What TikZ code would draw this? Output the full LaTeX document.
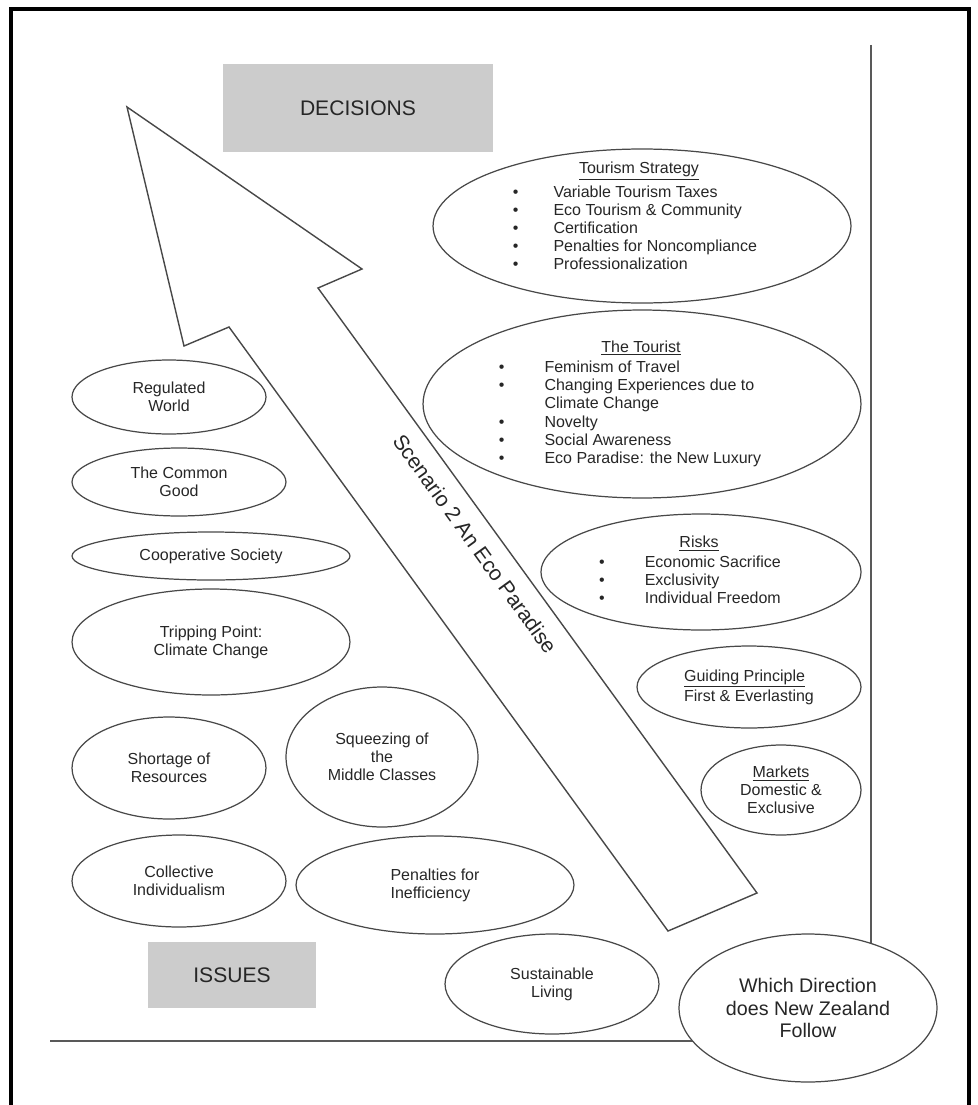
\documentclass[tikz,border=0pt]{standalone}
\usepackage{fontspec}
\setmainfont{Liberation Sans}
\usetikzlibrary{shapes.geometric, backgrounds}
\definecolor{boxgray}{RGB}{204, 204, 204}
\definecolor{inkgray}{RGB}{72, 72, 72}
\newcommand{\smalltxt}{\fontsize{9.1}{10.3}\selectfont}
\newcommand{\bigtxt}{\fontsize{12}{14}\selectfont}

\tikzset{
  oval/.style={draw=inkgray, line width=0.7pt, ellipse, inner sep=0pt, align=center, font=\smalltxt, text=black!85},
  tagbox/.style={fill=boxgray, inner sep=0pt, font=\bigtxt, text=black!85},
  axisline/.style={draw=black!65, line width=1.1pt},
}

\begin{document}
\begin{tikzpicture}[x=0.02cm, y=-0.02cm]
  \useasboundingbox (0,0) rectangle (977,1105);
  % frame, open at the bottom
  \draw[line width=2.2pt] (11,1105) -- (11,9) -- (969,9) -- (969,1105);

  \node[tagbox, minimum width=5.4cm, minimum height=1.78cm] (decisions) at (358,108) {DECISIONS};
  \node[tagbox, minimum width=3.38cm, minimum height=1.32cm] (issues) at (232,975) {ISSUES};

  % the scenario arrow
  \coordinate (tip) at (127,107);
  \coordinate (rbarb) at (362,269);
  \coordinate (rneck) at (318,288);
  \coordinate (rfoot) at (757,893);
  \coordinate (lfoot) at (668,931);
  \coordinate (lneck) at (229,327);
  \coordinate (lbarb) at (184,346);
  \draw[draw=inkgray, line width=0.8pt] (tip) -- (rbarb) -- (rneck) -- (rfoot) -- (lfoot) -- (lneck) -- (lbarb) -- cycle;
  \node[rotate=-54.2, font=\bigtxt, text=black!85] (scenario) at (475,544) {Scenario 2 An Eco Paradise};

  % decisions side
  \node[oval, minimum width=8.36cm, minimum height=3.08cm] (strategy) at (642,226) {\raisebox{0.08cm}[0pt][0pt]{\hspace*{-0.28cm}%
    \begin{tabular}{@{}l@{\hspace{0.7cm}}l@{}}
      \multicolumn{2}{c}{\hspace{0.16cm}\underline{Tourism Strategy}}\\[3.4pt]
      \textbullet & Variable Tourism Taxes\\
      \textbullet & Eco Tourism \& Community\\
      \textbullet & Certification\\
      \textbullet & Penalties for Noncompliance\\
      \textbullet & Professionalization
    \end{tabular}}};
  \node[oval, minimum width=8.76cm, minimum height=3.76cm] (tourist) at (642,404) {\hspace*{-0.48cm}%
    \begin{tabular}{@{}l@{\hspace{0.8cm}}l@{}}
      \multicolumn{2}{c}{\hspace{0.44cm}\underline{The Tourist}}\\[1.5pt]
      \textbullet & Feminism of Travel\\
      \textbullet & Changing Experiences due to\\
                  & Climate Change\\
      \textbullet & Novelty\\
      \textbullet & Social Awareness\\
      \textbullet & Eco Paradise: the New Luxury
    \end{tabular}};
  \node[oval, minimum width=6.4cm, minimum height=2.32cm] (risks) at (701,572) {\hspace*{-0.44cm}%
    \begin{tabular}{@{}l@{\hspace{0.8cm}}l@{}}
      \multicolumn{2}{c}{\hspace{0.36cm}\underline{Risks}}\\[1pt]
      \textbullet & Economic Sacrifice\\
      \textbullet & Exclusivity\\
      \textbullet & Individual Freedom
    \end{tabular}};
  \node[oval, align=left, minimum width=4.48cm, minimum height=1.64cm] (principle) at (749,687) {\underline{Guiding Principle}\\First \& Everlasting};
  \node[oval, minimum width=3.2cm, minimum height=1.8cm] (markets) at (781,790) {\underline{Markets}\\Domestic \&\\Exclusive};

  % issues side
  \node[oval, minimum width=3.88cm, minimum height=1.48cm] (regulated) at (169,397) {Regulated\\World};
  \node[oval, minimum width=4.28cm, minimum height=1.36cm] (common) at (179,482) {The Common\\Good};
  \node[oval, minimum width=5.56cm, minimum height=0.96cm] (cooperative) at (211,556) {Cooperative Society};
  \node[oval, minimum width=5.56cm, minimum height=2.12cm] (tipping) at (211,642) {Tripping Point:\\Climate Change};
  \node[oval, minimum width=3.88cm, minimum height=2.04cm] (shortage) at (169,768) {Shortage of\\Resources};
  \node[oval, minimum width=3.84cm, minimum height=2.8cm] (squeeze) at (382,757) {Squeezing of\\the\\Middle Classes};
  \node[oval, minimum width=4.28cm, minimum height=1.84cm] (collective) at (179,881) {Collective\\Individualism};
  \node[oval, align=left, minimum width=5.56cm, minimum height=1.96cm] (penalties) at (435,885) {Penalties for\\Inefficiency};
  \node[oval, minimum width=4.28cm, minimum height=2.0cm] (sustain) at (552,984) {Sustainable\\Living};

  % the question at the corner
  \node[oval, fill=white, font=\fontsize{11.2}{13}\selectfont, minimum width=5.16cm, minimum height=2.96cm] (which) at (808,1008) {Which Direction\\does New Zealand\\Follow};
  \coordinate (axistop) at (871,45);
  \coordinate (baseleft) at (50,1041);
  \begin{scope}[on background layer]
    \draw[axisline] (axistop) -- (axistop |- which.center);
    \draw[axisline] (baseleft) -- (baseleft -| which.center);
  \end{scope}
\end{tikzpicture}
\end{document}
